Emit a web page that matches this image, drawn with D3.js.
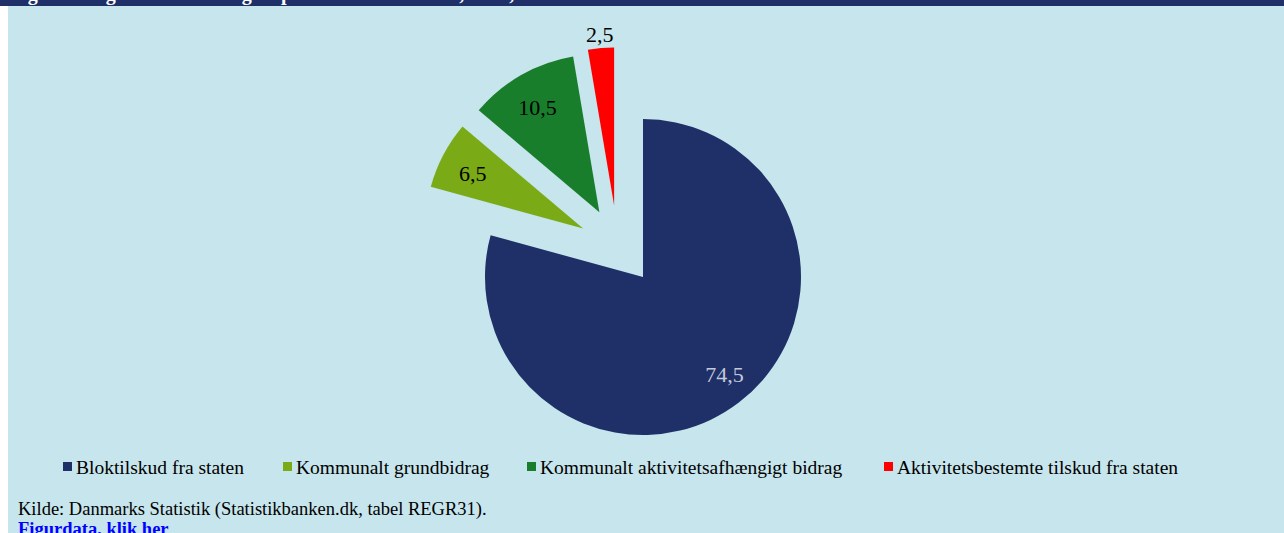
<!DOCTYPE html>
<html>
<head>
<meta charset="utf-8">
<script src="https://cdn.jsdelivr.net/npm/d3@7"></script>
<style>
html,body{margin:0;padding:0;background:#ffffff;overflow:hidden;}
svg{display:block;}
</style>
</head>
<body>
<svg id="chart" width="1284" height="533"></svg>
<script>
// ---- data ----
const categories = ["Bloktilskud fra staten", "Kommunalt grundbidrag", "Kommunalt aktivitetsafhængigt bidrag", "Aktivitetsbestemte tilskud fra staten"];
const values = [74.5, 6.5, 10.5, 2.5];
const labels = ["74,5", "6,5", "10,5", "2,5"];
const colors = ["#1f3068", "#7aab17", "#187e2c", "#ff0000"];
const titleText = "Figur 1. Regionernes indtægter på sundhedsområdet, 2013, mia. kr.";
const sourceText = "Kilde: Danmarks Statistik (Statistikbanken.dk, tabel REGR31).";
const linkText = "Figurdata, klik her";

// ---- layout ----
const W = 1284, H = 533;
const svg = d3.select("#chart");
const serif = "'Liberation Serif','Times New Roman',serif";

// chart background
svg.append("rect").attr("x", 8).attr("y", 0).attr("width", W - 8).attr("height", H).attr("fill", "#c6e5ec");
// title bar
svg.append("rect").attr("x", 0).attr("y", 0).attr("width", W).attr("height", 6).attr("fill", "#1f3068");
svg.append("text").attr("x", 10).attr("y", 0)
  .attr("font-family", serif).attr("font-weight", "bold").attr("font-size", 20)
  .attr("fill", "#ffffff").text(titleText);

// pie
const cx = 643, cy = 277, R = 158;
const pie = d3.pie().sort(null).value(d => d)(values);
const arc = d3.arc().innerRadius(0).outerRadius(R);
// explosion (distance, direction in degrees clockwise from top) per slice
const explode = [[0, 0], [77, 309], [78, 326], [77, 338]];
const offs = explode.map(([d, a]) => {
  const r = a * Math.PI / 180;
  return [d * Math.sin(r), -d * Math.cos(r)];
});

const g = svg.append("g").attr("transform", `translate(${cx},${cy})`);
const slices = g.selectAll("g.slice").data(pie).enter().append("g")
  .attr("class", "slice")
  .attr("transform", (d, i) => `translate(${offs[i][0]},${offs[i][1]})`);
slices.append("path").attr("d", arc).attr("fill", (d, i) => colors[i]);

slices.append("text")
  .attr("transform", d => {
    const small = (d.endAngle - d.startAngle) < 0.25;
    const mid = (d.startAngle + d.endAngle) / 2 - (d.index === 0 ? 0.06 : 0);
    const rr = small ? R * 1.09 : R * 0.79;
    return `translate(${rr * Math.sin(mid)},${-rr * Math.cos(mid) + (small ? 0 : 3)})`;
  })
  .attr("text-anchor", "middle").attr("dy", "0.35em")
  .attr("font-family", serif).attr("font-size", 22)
  .attr("fill", (d, i) => i === 0 ? "#c3c9d9" : "#000000")
  .text((d, i) => labels[i]);

// legend
const legendX = [63, 283, 527, 884];
const legendY = 467;
const lg = svg.append("g");
categories.forEach((c, i) => {
  lg.append("rect").attr("x", legendX[i]).attr("y", legendY - 5).attr("width", 9).attr("height", 9).attr("fill", colors[i]);
  lg.append("text").attr("x", legendX[i] + 13).attr("y", legendY + 7)
    .attr("font-family", serif).attr("font-size", 19.5).attr("fill", "#000000").text(c);
});

// footnotes
svg.append("text").attr("x", 18).attr("y", 515)
  .attr("font-family", serif).attr("font-size", 18.5).attr("fill", "#000000").text(sourceText);
svg.append("text").attr("x", 18).attr("y", 535)
  .attr("font-family", serif).attr("font-weight", "bold").attr("font-size", 18.5).attr("fill", "#0000ff").text(linkText);
</script>
</body>
</html>
